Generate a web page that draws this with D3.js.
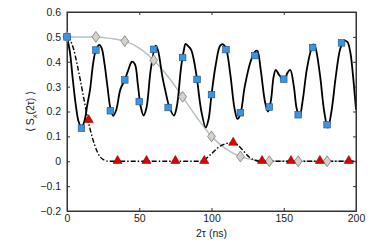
<!DOCTYPE html>
<html><head><meta charset="utf-8">
<script src="https://cdn.jsdelivr.net/npm/d3@7"></script>
<style>body{margin:0;background:#fff}svg{display:block}</style>
</head><body>
<script>
// ---- data ----
const squareX = [0,10,20,30,40,50,60,70,80,90,100,110,120,130,140,150,160,170,180,190];
const squareY = [0.5,0.133,0.447,0.203,0.327,0.24,0.45,0.216,0.417,0.329,0.268,0.449,0.195,0.425,0.218,0.33,0.187,0.457,0.147,0.476];

const curveX = [0,2,4,6,8,10,12,14,16,18,20,22.4,24,26,28,30,32,34,37,40,42,45,47,49,51,53,55,58,61.4,63,66,68,71,74,76,79,81,82,84,86,88,90,93,96,98,100,103,106,108,110,113,116,118,120,123,127,130,131.7,134,137,139,141,143,144.5,147,150.5,152.5,154.5,157,159,161,163,166,169,170.5,172,175,178,180.5,183,186,189,191.5,194,196,198,200];
const curveY = [0.5,0.44,0.33,0.23,0.16,0.138,0.16,0.225,0.29,0.39,0.447,0.468,0.455,0.39,0.3,0.215,0.183,0.205,0.29,0.327,0.36,0.40,0.39,0.31,0.22,0.184,0.215,0.37,0.465,0.445,0.34,0.285,0.215,0.184,0.22,0.38,0.45,0.472,0.462,0.447,0.40,0.329,0.2,0.136,0.17,0.268,0.39,0.465,0.47,0.455,0.35,0.21,0.17,0.19,0.3,0.40,0.44,0.444,0.37,0.24,0.2,0.24,0.34,0.367,0.345,0.327,0.355,0.367,0.3,0.21,0.18,0.24,0.37,0.45,0.47,0.455,0.35,0.2,0.135,0.2,0.34,0.45,0.484,0.48,0.44,0.34,0.207];

const diamondX = [0,20,40,60,80,100,120,140,160,180];
const diamondY = [0.5,0.5,0.483,0.406,0.259,0.1,0.019,0,0,0];
const grayX = [0,10,20,30,40,50,60,70,80,90,100,110,120,130,140,160,200];
const grayY = [0.5,0.5,0.499,0.494,0.483,0.455,0.406,0.34,0.259,0.175,0.1,0.05,0.019,0.005,0.001,0,0];

const triX = [15,35,55,75,95,115,135,155,175,195];
const triY = [0.164,0,0,0,0,0.073,0,0,0,0];
const dashX = [0,2,4.6,7,9.2,12.7,14.5,17.3,20.8,23,25.4,29,60,92,95,100,105,110,114,118,122,126,130,134,200];
const dashY = [0.5,0.49,0.45,0.39,0.327,0.22,0.167,0.1,0.04,0.017,0.006,0,0,0,0.006,0.03,0.057,0.071,0.075,0.066,0.042,0.017,0.004,0,0];

const xTicks = [0,50,100,150,200];
const yTicks = [-0.2,-0.1,0,0.1,0.2,0.3,0.4,0.5,0.6];

// ---- layout ----
const W = 374, H = 247;
const m = {l:67, r:18, t:12, b:36};
const svg = d3.select("body").append("svg").attr("width",W).attr("height",H);
const x = d3.scaleLinear().domain([0,200]).range([m.l, W-m.r]);
const y = d3.scaleLinear().domain([-0.2,0.6]).range([H-m.b, m.t]);

const font = "Liberation Sans, Arial, Helvetica, sans-serif";
const fmt = v => (v<0?"\u2212":"") + (Math.abs(v) < 1e-9 ? "0" : (Number.isInteger(v)? String(Math.abs(v)) : Math.abs(v).toFixed(1)));

const plot = svg.append("g");
plot.append("defs").append("clipPath").attr("id","clip").append("rect")
  .attr("x",m.l).attr("y",m.t).attr("width",W-m.l-m.r).attr("height",H-m.t-m.b);
const g = plot.append("g").attr("clip-path","url(#clip)");

const line = d3.line().x(d=>x(d[0])).y(d=>y(d[1]));

// gray line
g.append("path").datum(d3.zip(grayX, grayY))
  .attr("d", line.curve(d3.curveMonotoneX))
  .attr("fill","none").attr("stroke","#b4c2c2").attr("stroke-width",1.5);

// dash-dot line
g.append("path").datum(d3.zip(dashX, dashY))
  .attr("d", d3.line().x(d=>x(d[0])).y(d=>y(d[1])).curve(d3.curveMonotoneX))
  .attr("fill","none").attr("stroke","#000").attr("stroke-width",1.4)
  .attr("stroke-dasharray","5,2,1.5,2");

// black oscillating line
g.append("path").datum(d3.zip(curveX, curveY))
  .attr("d", d3.line().x(d=>x(d[0])).y(d=>y(d[1])).curve(d3.curveCatmullRom.alpha(0.5)))
  .attr("fill","none").attr("stroke","#000").attr("stroke-width",1.8);

// axes box
const axG = svg.append("g");
axG.append("rect").attr("x",m.l).attr("y",m.t).attr("width",W-m.l-m.r).attr("height",H-m.t-m.b)
  .attr("fill","none").attr("stroke","#333").attr("stroke-width",1);

const xb = svg.append("g").attr("transform",`translate(0,${H-m.b})`)
  .call(d3.axisBottom(x).tickValues(xTicks).tickSize(-3).tickPadding(4).tickFormat(fmt));
const xt = svg.append("g").attr("transform",`translate(0,${m.t})`)
  .call(d3.axisTop(x).tickValues(xTicks).tickSize(-3).tickFormat(""));
const yl = svg.append("g").attr("transform",`translate(${m.l},0)`)
  .call(d3.axisLeft(y).tickValues(yTicks).tickSize(-3).tickPadding(6).tickFormat(fmt));
const yr = svg.append("g").attr("transform",`translate(${W-m.r},0)`)
  .call(d3.axisRight(y).tickValues(yTicks).tickSize(-3).tickFormat(""));
[xb,xt,yl,yr].forEach(a=>{
  a.select(".domain").attr("stroke","#333");
  a.selectAll(".tick line").attr("stroke","#333");
  a.selectAll("text").attr("fill","#222").style("font-family",font).style("font-size","10.5px");
});

// markers
const mk = svg.append("g");
const diamond = d3.symbol().type(d3.symbolDiamond).size(34);
mk.selectAll(".dia").data(d3.zip(diamondX, diamondY)).join("path")
  .attr("transform", d=>`translate(${x(d[0])},${y(d[1])}) scale(1.25,1)`)
  .attr("d", diamond()).attr("fill","#d2d2cc").attr("stroke","#7a7a74").attr("stroke-width",0.7);

const tri = d3.symbol().type(d3.symbolTriangle).size(36);
mk.selectAll(".tri").data(d3.zip(triX, triY)).join("path")
  .attr("transform", d=>`translate(${x(d[0])},${y(d[1])-0.5})`)
  .attr("d", tri()).attr("fill","#e00000").attr("stroke","#7a0000").attr("stroke-width",0.6);

mk.selectAll(".sq").data(d3.zip(squareX, squareY)).join("rect")
  .attr("x", d=>x(d[0])-3.3).attr("y", d=>y(d[1])-3.3).attr("width",6.6).attr("height",6.6)
  .attr("fill","#3b93e3").attr("stroke","#1f4f80").attr("stroke-width",0.6);

// labels
svg.append("text").attr("x",(m.l+W-m.r)/2).attr("y",237).attr("text-anchor","middle")
  .style("font-family",font).style("font-size","10.5px").attr("fill","#222").text("2\u03c4 (ns)");
const yt = svg.append("text").attr("transform",`translate(34,${(m.t+H-m.b)/2}) rotate(-90)`)
  .attr("text-anchor","middle").style("font-family",font).style("font-size","10.5px").attr("fill","#222");
yt.append("tspan").text("\u27e8 S");
yt.append("tspan").attr("dy",3).style("font-size","7.5px").text("x");
yt.append("tspan").attr("dy",-3).text("(2\u03c4) \u27e9");
</script>
</body></html>
